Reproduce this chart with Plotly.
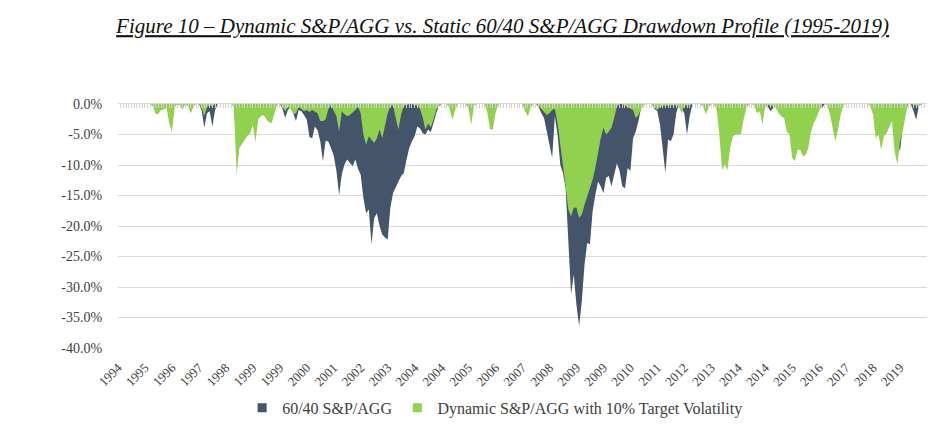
import pandas as pd
import plotly.graph_objects as go

# Monthly drawdowns (%), Dec 1994 .. Dec 2019
static_6040 = (
    [0]
    + [0] * 12  # 1995
    + [-0.2, -0.8, -0.8, -0.5, -0.3, 0, -1.5, -2.0, 0, 0, 0, -0.3]  # 1996
    + [0, 0, -0.6, 0, 0, 0, -1.0, -3.9, -1.5, -1.2, -3.7, -1.0]  # 1997
    + [0, 0, 0, 0, 0, 0, -0.3, -8.0, -5.0, -4.0, -3.0, -2.5]  # 1998
    + [-2.0, -1.5, -3.0, -1.0, -0.5, -0.5, -1.0, -1.5, -1.5, -0.5, 0, 0]  # 1999
    + [-0.8, -2.3, -1.0, -0.5, -1.5, -2.8, -1.0, -1.2, -1.8, -2.6, -5.4, -5.6]  # 2000
    + [-3.7, -4.3, -6.1, -9.4, -6.0, -6.2, -7.2, -8.5, -11.0, -14.9, -11.5, -9.9]  # 2001
    + [-9.1, -9.7, -10.2, -9.1, -10.6, -11.6, -15.4, -17.9, -17.3, -23.0, -18.7, -17.9]  # 2002
    + [-20.0, -21.4, -21.9, -22.2, -17.0, -14.6, -13.5, -12.7, -11.8, -11.3, -9.1, -7.2]  # 2003
    + [-6.1, -5.3, -3.7, -4.0, -4.8, -5.0, -4.2, -4.6, -3.1, -1.5, -0.4, 0]  # 2004
    + [0, 0, -0.3, -1.2, -0.4, 0, 0, 0, 0, -0.3, -1.8, 0]  # 2005
    + [0, 0, 0, 0, -0.6, -2.0, -2.2, -0.6, 0, 0, 0, 0]  # 2006
    + [0, 0, 0, 0, 0, 0, -0.5, -1.0, -0.2, 0, 0, -0.5]  # 2007
    + [-1.5, -2.3, -4.5, -6.5, -8.8, -2.0, -5.0, -9.9, -11.3, -13.8, -21.9, -31.2]  # 2008
    + [-28.0, -32.9, -36.4, -32.3, -26.3, -22.8, -23.0, -17.6, -14.9, -12.7, -13.5, -14.6]  # 2009
    + [-12.1, -11.8, -13.5, -11.3, -9.7, -11.0, -13.5, -13.8, -10.5, -11.0, -5.6, -4.5]  # 2010
    + [-2.8, -0.6, 0, 0, 0, 0, -0.8, -1.2, -3.4, -7.8, -11.3, -5.8]  # 2011
    + [-6.1, -5.0, -1.5, 0, -0.8, -1.5, -5.0, -2.0, 0, 0, 0, 0]  # 2012
    + [-0.2, -0.8, -0.2, 0, 0, -0.3, -2.0, -4.0, -3.5, -4.0, -3.0, -2.0]  # 2013
    + [-1.8, -1.8, -1.5, -1.0, -0.3, 0, 0, 0, -0.5, -0.4, -1.5, -0.2]  # 2014
    + [-0.5, -1.2, -0.6, -0.3, -0.5, -0.8, -1.0, -2.0, -2.5, -4.0, -4.5, -3.5]  # 2015
    + [-3.5, -4.5, -4.0, -3.5, -2.0, -1.5, -1.0, -0.5, -0.7, 0, 0, -0.7]  # 2016
    + [-1.5, -2.5, -1.8, -0.6, 0, 0, 0, 0, 0, 0, 0, 0]  # 2017
    + [0, 0, 0, -0.6, -2.0, -2.0, -3.0, -2.0, -1.8, -1.2, -1.0, -4.0]  # 2018
    + [-6.0, -7.8, -3.5, -1.0, 0, 0, -1.2, -2.6, -0.3, 0, 0, 0]  # 2019
)

dynamic_10vol = (
    [0]
    + [0] * 12  # 1995
    + [-0.5, -1.7, -1.6, -1.0, -0.9, -0.6, -3.2, -4.6, -0.6, 0, -0.3, -0.9]  # 1996
    + [0, -0.4, -1.5, -0.4, 0, 0, -0.5, -2.0, -0.5, -0.2, -0.5, 0]  # 1997
    + [0, 0, 0, 0, 0, 0, -0.5, -11.5, -7.2, -6.5, -5.8, -5.2]  # 1998
    + [-4.8, -3.5, -6.2, -2.5, -2.0, -1.8, -2.5, -3.0, -3.1, -1.5, 0, 0]  # 1999
    + [-0.5, -1.2, -0.5, -0.8, -1.7, -1.5, -0.5, -0.8, -1.2, -1.0, -1.3, -1.0]  # 2000
    + [-1.2, -1.5, -2.8, -2.8, -2.5, -0.8, -0.2, -1.0, -2.0, -4.5, -1.2, -1.7]  # 2001
    + [-2.0, -1.8, -1.4, -1.0, -0.4, -1.5, -5.0, -6.7, -5.3, -5.8, -6.4, -5.6]  # 2002
    + [-4.2, -5.6, -3.7, -1.5, -0.3, -0.3, -2.3, -4.2, -1.7, -0.3, -0.2, 0]  # 2003
    + [0, -0.3, -0.2, -0.8, -2.2, -4.2, -3.2, -3.8, -2.5, -1.0, -0.3, 0]  # 2004
    + [0, 0, -0.8, -2.6, -1.0, 0, 0, 0, 0, -0.8, -3.4, -0.3]  # 2005
    + [0, 0, 0, 0, -1.5, -4.2, -4.2, -1.5, 0, 0, 0, 0]  # 2006
    + [0, 0, 0, 0, 0, 0, -1.2, -2.0, -0.6, 0, 0, -0.3]  # 2007
    + [-0.8, -1.3, -1.8, -1.5, -1.0, -0.8, -3.1, -6.7, -9.7, -13.5, -17.3, -18.4]  # 2008
    + [-17.0, -17.0, -18.7, -18.1, -16.5, -15.1, -13.8, -12.4, -10.5, -7.8, -5.6, -3.9]  # 2009
    + [-5.0, -4.5, -3.9, -2.3, -0.4, 0, 0, -0.3, -0.5, -0.8, -1.0, -2.3]  # 2010
    + [-1.8, -0.8, -0.2, 0, 0, 0, -0.6, -1.0, -0.5, -0.3, -0.3, -0.2]  # 2011
    + [-0.2, -0.3, -0.2, -0.5, -1.5, -0.3, -0.3, -0.2, 0, 0, 0, 0]  # 2012
    + [-0.5, -1.7, -0.6, 0, 0, -0.9, -5.0, -10.8, -9.9, -10.8, -7.2, -5.3]  # 2013
    + [-5.0, -5.0, -4.9, -2.6, -0.7, 0, 0, -0.3, -1.5, -1.2, -3.4, -0.3]  # 2014
    + [-0.2, -0.3, -0.4, -0.7, -1.5, -2.0, -2.3, -4.5, -5.0, -8.8, -9.4, -7.5]  # 2015
    + [-7.5, -8.6, -8.3, -7.2, -4.5, -3.1, -2.3, -1.1, 0, 0, -0.2, -1.7]  # 2016
    + [-3.9, -6.1, -4.2, -1.7, -0.2, 0, 0, 0, 0, 0, 0, 0]  # 2017
    + [0, 0, -0.4, -1.7, -5.6, -5.0, -7.5, -5.3, -4.8, -3.7, -2.8, -7.8]  # 2018
    + [-9.9, -6.1, -4.5, -2.0, 0, 0, -0.2, -0.3, -0.2, 0, 0, 0]  # 2019
)

tick_labels = ["1994", "1995", "1996", "1997", "1998", "1999", "1999", "2000", "2001", "2002",
               "2003", "2004", "2004", "2005", "2006", "2007", "2008", "2009", "2009", "2010",
               "2011", "2012", "2013", "2014", "2014", "2015", "2016", "2017", "2018", "2019"]

months = list(pd.date_range("1994-12-01", periods=len(static_6040), freq="MS").strftime("%b %Y"))
y_ticks = [0, -5, -10, -15, -20, -25, -30, -35, -40]
y_tick_labels = ["0.0%", "-5.0%", "-10.0%", "-15.0%", "-20.0%", "-25.0%", "-30.0%", "-35.0%", "-40.0%"]

DARK = "#44546a"
GREEN = "#92d050"
SERIF = "Liberation Serif, Times New Roman, serif"

fig = go.Figure()
fig.add_trace(go.Scatter(
    x=months, y=[v / 100 for v in static_6040], name="60/40 S&P/AGG", showlegend=False,
    mode="lines", line=dict(width=0, color=DARK), fill="tozeroy", fillcolor=DARK,
    hoverinfo="skip"))
fig.add_trace(go.Scatter(
    x=months, y=[v / 100 for v in dynamic_10vol], name="Dynamic S&P/AGG with 10% Target Volatility",
    showlegend=False,
    mode="lines", line=dict(width=0, color=GREEN), fill="tozeroy", fillcolor=GREEN,
    hoverinfo="skip"))
# legend entries with small square keys
fig.add_trace(go.Scatter(x=[None], y=[None], name="60/40 S&P/AGG", mode="markers",
                         marker=dict(symbol="square", size=9, color=DARK)))
fig.add_trace(go.Scatter(x=[None], y=[None], name="Dynamic S&P/AGG with 10% Target Volatility",
                         mode="markers", marker=dict(symbol="square", size=9, color=GREEN)))
# invisible trace to activate the top (zero-line) axis carrying the monthly tick marks
fig.add_trace(go.Scatter(x=[months[0]], y=[0], xaxis="x2", mode="markers",
                         marker=dict(opacity=0), showlegend=False, hoverinfo="skip"))

fig.update_layout(
    width=935, height=424,
    margin=dict(l=110, r=16, t=96, b=84, autoexpand=False),
    paper_bgcolor="white", plot_bgcolor="white",
    title=dict(
        text="<i><u>Figure 10 – Dynamic S&P/AGG vs. Static 60/40 S&P/AGG Drawdown Profile (1995-2019)</u></i>",
        font=dict(family=SERIF, size=21, color="#111111"),
        xref="container", x=0.529, xanchor="center", yref="container", y=0.958, yanchor="middle"),
    xaxis=dict(
        type="category", categoryorder="array", categoryarray=months,
        range=[0, len(months) - 1], automargin=False,
        tickmode="array", tickvals=months[:300:10], ticktext=tick_labels,
        tickangle=-45, ticks="outside", ticklen=6, tickcolor="rgba(0,0,0,0)",
        showgrid=False, showline=False, zeroline=False,
        tickfont=dict(family=SERIF, size=13, color="#404040")),
    xaxis2=dict(
        type="category", categoryorder="array", categoryarray=months,
        overlaying="x", anchor="y", side="top", matches="x", automargin=False,
        range=[0, len(months) - 1],
        tickmode="linear", tick0=0, dtick=1,
        ticks="inside", ticklen=4, tickwidth=1, tickcolor="#d0d0d0",
        showticklabels=False, showgrid=False, zeroline=False,
        showline=True, linecolor="#d9d9d9", linewidth=1),
    yaxis=dict(
        range=[-0.40, 0], tickmode="array", tickvals=[v / 100 for v in y_ticks],
        ticktext=y_tick_labels, automargin=False,
        ticks="outside", ticklen=12, tickcolor="rgba(0,0,0,0)",
        showgrid=True, gridcolor="#d9d9d9", gridwidth=1, zeroline=False, showline=False,
        tickfont=dict(family=SERIF, size=14, color="#404040")),
    legend=dict(
        orientation="h", xref="container", yref="container",
        x=0.521, xanchor="center", y=0.057, yanchor="middle",
        font=dict(family=SERIF, size=16, color="#404040"),
        itemwidth=30, tracegroupgap=0),
    showlegend=True,
)

fig.write_html("out.html")
